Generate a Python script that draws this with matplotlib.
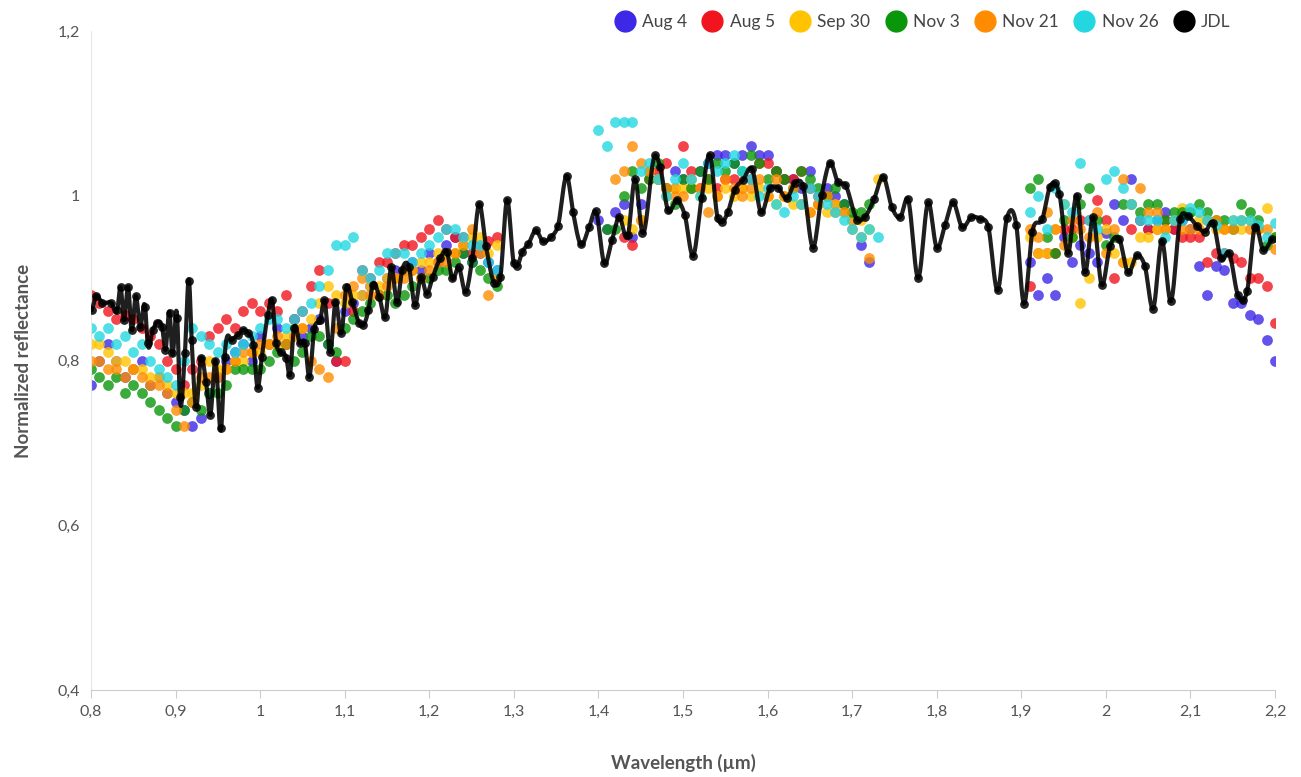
import numpy as np
import matplotlib
matplotlib.use('Agg')
import matplotlib.pyplot as plt
from matplotlib.lines import Line2D

plt.rcParams['font.family'] = ['Lato', 'DejaVu Sans']

# ── data ─────────────────────────────────────────────
wl_a = np.round(np.arange(0.80, 1.285, 0.01), 2)   # 0.80 .. 1.28
wl_c = np.round(np.arange(1.91, 2.205, 0.01), 2)   # 1.91 .. 2.20

aug4_a = [0.77, 0.80, 0.82, 0.80, 0.78, 0.79, 0.80, 0.77, 0.78, 0.76, 0.75, 0.74, 0.72, 0.73, 0.76, 0.78, 0.80,
          0.81, 0.82, 0.80, 0.83, 0.82, 0.84, 0.82, 0.85, 0.83, 0.84, 0.85, 0.82, 0.80, 0.86, 0.87, 0.88, 0.89,
          0.88, 0.90, 0.91, 0.91, 0.92, 0.91, 0.93, 0.92, 0.94, 0.95, 0.93, 0.92, 0.93, 0.92, 0.91]
aug5_a = [0.88, 0.87, 0.86, 0.85, 0.855, 0.85, 0.84, 0.83, 0.82, 0.80, 0.79, 0.77, 0.79, 0.80, 0.83, 0.84, 0.85,
          0.84, 0.86, 0.87, 0.86, 0.87, 0.86, 0.88, 0.85, 0.86, 0.89, 0.91, 0.87, 0.80, 0.80, 0.86, 0.91, 0.90,
          0.92, 0.92, 0.93, 0.94, 0.94, 0.95, 0.96, 0.97, 0.96, 0.95, 0.95, 0.93, 0.94, 0.945, 0.95]
sep30_a = [0.82, 0.82, 0.81, 0.80, 0.80, 0.79, 0.79, 0.78, 0.78, 0.77, 0.76, 0.76, 0.76, 0.77, 0.80, 0.79, 0.79,
           0.80, 0.80, 0.81, 0.81, 0.82, 0.82, 0.83, 0.84, 0.84, 0.85, 0.87, 0.89, 0.88, 0.87, 0.88, 0.88, 0.89,
           0.89, 0.90, 0.90, 0.91, 0.91, 0.92, 0.92, 0.93, 0.93, 0.93, 0.94, 0.95, 0.95, 0.93, 0.94]
nov3_a = [0.79, 0.78, 0.77, 0.78, 0.76, 0.77, 0.76, 0.75, 0.74, 0.73, 0.72, 0.74, 0.75, 0.74, 0.76, 0.76, 0.77,
          0.79, 0.79, 0.79, 0.79, 0.80, 0.81, 0.82, 0.80, 0.81, 0.83, 0.83, 0.82, 0.81, 0.84, 0.85, 0.86, 0.87,
          0.88, 0.88, 0.87, 0.88, 0.89, 0.90, 0.90, 0.91, 0.91, 0.92, 0.93, 0.92, 0.91, 0.90, 0.89]
nov21_a = [0.80, 0.80, 0.79, 0.79, 0.78, 0.79, 0.78, 0.77, 0.77, 0.76, 0.74, 0.72, 0.75, 0.78, 0.78, 0.78, 0.79,
           0.80, 0.81, 0.81, 0.82, 0.82, 0.83, 0.82, 0.83, 0.84, 0.80, 0.79, 0.78, 0.84, 0.88, 0.89, 0.90, 0.88,
           0.88, 0.89, 0.90, 0.90, 0.91, 0.90, 0.91, 0.92, 0.92, 0.93, 0.94, 0.96, 0.93, 0.88, 0.90]
nov26_a = [0.84, 0.83, 0.84, 0.82, 0.83, 0.81, 0.82, 0.80, 0.79, 0.78, 0.77, 0.80, 0.84, 0.83, 0.82, 0.81, 0.82,
           0.81, 0.82, 0.83, 0.84, 0.85, 0.85, 0.84, 0.85, 0.86, 0.87, 0.89, 0.91, 0.94, 0.94, 0.95, 0.91, 0.90,
           0.91, 0.93, 0.93, 0.93, 0.92, 0.93, 0.94, 0.95, 0.96, 0.96, 0.95, 0.94, 0.94, 0.92, 0.91]

aug4_b_wl = [1.40, 1.41, 1.42, 1.43, 1.44, 1.45, 1.46, 1.47, 1.48, 1.49, 1.50, 1.51, 1.52, 1.53, 1.54, 1.55, 1.56,
             1.57, 1.58, 1.59, 1.60, 1.61, 1.62, 1.63, 1.64, 1.65, 1.66, 1.67, 1.68, 1.69, 1.70, 1.71, 1.72]
aug4_b = [0.97, 0.96, 0.98, 0.99, 0.95, 0.99, 1.03, 1.02, 1.01, 1.03, 1.02, 1.01, 1.03, 1.04, 1.05, 1.05, 1.04,
          1.05, 1.06, 1.05, 1.05, 1.03, 1.02, 1.02, 1.01, 1.03, 0.99, 1.01, 1.00, 0.99, 0.97, 0.94, 0.92]
aug5_b_wl = [1.43, 1.44, 1.45, 1.46, 1.47, 1.48, 1.49, 1.50, 1.51, 1.52, 1.53, 1.54, 1.55, 1.56, 1.57, 1.58, 1.59,
             1.60, 1.61, 1.62, 1.63, 1.64, 1.65, 1.66, 1.67, 1.68]
aug5_b = [0.95, 0.94, 0.97, 1.02, 1.03, 1.04, 1.01, 1.06, 1.03, 1.01, 1.02, 1.01, 1.02, 1.02, 1.01, 1.02, 1.04,
          1.04, 1.03, 1.02, 1.02, 1.03, 1.01, 1.00, 1.00, 0.99]
sep30_b_wl = [1.43, 1.44, 1.45, 1.46, 1.47, 1.48, 1.49, 1.50, 1.51, 1.52, 1.53, 1.54, 1.55, 1.56, 1.57, 1.58, 1.59,
              1.60, 1.61, 1.62, 1.63, 1.64, 1.65, 1.66, 1.67, 1.68, 1.69, 1.70, 1.71, 1.72, 1.73]
sep30_b = [0.97, 0.96, 0.97, 1.03, 1.02, 1.00, 1.01, 1.01, 1.01, 1.00, 1.01, 1.00, 1.01, 1.00, 1.01, 1.00, 1.01,
           1.00, 0.99, 1.00, 0.99, 0.99, 0.98, 0.99, 0.98, 0.99, 0.98, 0.97, 0.97, 0.96, 1.02]
nov3_b_wl = [1.41, 1.42, 1.43, 1.44, 1.45, 1.46, 1.47, 1.48, 1.49, 1.50, 1.51, 1.52, 1.53, 1.54, 1.55, 1.56, 1.57,
             1.58, 1.59, 1.60, 1.61, 1.62, 1.63, 1.64, 1.65, 1.66, 1.67, 1.68, 1.69, 1.70, 1.71, 1.72]
nov3_b = [0.96, 0.96, 1.00, 1.03, 1.01, 1.02, 1.04, 1.01, 0.99, 1.02, 1.01, 1.03, 1.02, 1.04, 1.03, 1.04, 1.03,
          1.05, 1.04, 1.02, 1.03, 1.02, 1.01, 1.03, 1.02, 1.01, 1.00, 1.01, 0.99, 0.98, 0.98, 0.99]
nov21_b_wl = [1.42, 1.43, 1.44, 1.45, 1.46, 1.47, 1.48, 1.49, 1.50, 1.51, 1.52, 1.53, 1.54, 1.55, 1.56, 1.57, 1.58,
              1.59, 1.60, 1.61, 1.62, 1.63, 1.64, 1.65, 1.66, 1.67, 1.68, 1.69, 1.70, 1.71, 1.72]
nov21_b = [1.02, 1.03, 1.06, 1.04, 1.03, 1.02, 1.01, 1.00, 1.00, 1.02, 1.01, 0.98, 1.00, 1.02, 1.01, 1.00, 1.01,
           1.02, 1.00, 1.02, 1.00, 1.01, 0.99, 0.98, 0.99, 1.00, 0.98, 0.98, 0.96, 0.95, 0.925]
nov26_b_wl = [1.40, 1.41, 1.42, 1.43, 1.44, 1.45, 1.46, 1.47, 1.48, 1.49, 1.50, 1.51, 1.52, 1.53, 1.54, 1.55, 1.56,
              1.57, 1.58, 1.59, 1.60, 1.61, 1.62, 1.63, 1.64, 1.65, 1.66, 1.67, 1.68, 1.69, 1.70, 1.71, 1.72, 1.73]
nov26_b = [1.08, 1.06, 1.09, 1.09, 1.09, 1.03, 1.04, 1.02, 1.00, 1.02, 1.04, 1.02, 1.00, 1.04, 1.03, 1.04, 1.05,
           1.03, 1.02, 1.00, 1.01, 0.99, 0.98, 1.00, 0.99, 1.01, 1.00, 0.99, 0.98, 0.97, 0.96, 0.95, 0.96, 0.95]

aug4_c = [0.92, 0.88, 0.90, 0.88, 0.95, 0.92, 0.94, 0.93, 0.92, 0.955, 0.99, 0.97, 1.02, 0.97, 0.96, 0.97, 0.98,
          0.96, 0.97, 0.96, 0.915, 0.88, 0.915, 0.91, 0.87, 0.87, 0.855, 0.85, 0.825, 0.80]
aug5_c = [0.89, 0.93, 0.93, 0.93, 0.96, 0.96, 0.97, 0.97, 0.995, 0.97, 0.90, 0.92, 0.96, 0.97, 0.96, 0.96, 0.97,
          0.96, 0.95, 0.95, 0.95, 0.92, 0.93, 0.93, 0.925, 0.92, 0.90, 0.90, 0.89, 0.845]
sep30_c = [0.95, 0.93, 0.93, 0.96, 0.99, 0.95, 0.87, 0.90, 0.95, 0.96, 0.93, 0.92, 0.92, 0.95, 0.95, 0.96, 0.96,
           0.97, 0.985, 0.98, 0.97, 0.97, 0.96, 0.96, 0.97, 0.96, 0.97, 0.96, 0.985, 0.95]
nov3_c = [1.01, 1.02, 0.95, 0.93, 0.97, 0.95, 0.99, 1.01, 0.97, 0.94, 0.95, 0.99, 0.99, 0.98, 0.99, 0.99, 0.97,
          0.98, 0.98, 0.98, 0.99, 0.98, 0.97, 0.97, 0.96, 0.99, 0.98, 0.97, 0.94, 0.95]
nov21_c = [0.96, 0.95, 0.98, 0.96, 0.94, 0.97, 0.96, 0.95, 0.98, 0.93, 0.96, 1.02, 0.99, 1.01, 0.98, 0.98, 0.96,
           0.97, 0.96, 0.96, 0.96, 0.97, 0.97, 0.96, 0.96, 0.97, 0.96, 0.96, 0.96, 0.935]
nov26_c = [0.98, 1.00, 0.96, 1.01, 0.99, 0.98, 1.04, 0.97, 0.96, 1.02, 1.03, 1.01, 0.99, 0.97, 0.97, 0.97, 0.95,
           0.97, 0.97, 0.985, 0.98, 0.97, 0.965, 0.93, 0.97, 0.97, 0.97, 0.965, 0.95, 0.967]

jdl_wl = [0.801, 0.806, 0.813, 0.824, 0.831, 0.835, 0.839, 0.844, 0.848, 0.853, 0.858, 0.864, 0.867, 0.873,
          0.878, 0.884, 0.888, 0.893, 0.896, 0.902, 0.905, 0.911, 0.916, 0.919, 0.924, 0.930, 0.936, 0.941,
          0.947, 0.954, 0.958, 0.967, 0.974, 0.980, 0.986, 0.992, 0.997, 1.002, 1.009, 1.014, 1.019, 1.025,
          1.031, 1.035, 1.040, 1.047, 1.053, 1.058, 1.064, 1.071, 1.076, 1.083, 1.089, 1.096, 1.102, 1.109,
          1.117, 1.122, 1.128, 1.133, 1.141, 1.148, 1.155, 1.162, 1.168, 1.176, 1.183, 1.190, 1.197, 1.204,
          1.213, 1.221, 1.227, 1.235, 1.243, 1.251, 1.259, 1.267, 1.277, 1.284, 1.292, 1.300, 1.304, 1.310,
          1.317, 1.326, 1.334, 1.344, 1.352, 1.363, 1.370, 1.379, 1.389, 1.397, 1.407, 1.416, 1.424, 1.435,
          1.443, 1.452, 1.467, 1.473, 1.482, 1.493, 1.502, 1.512, 1.522, 1.532, 1.541, 1.546, 1.553, 1.561,
          1.571, 1.582, 1.592, 1.603, 1.612, 1.623, 1.632, 1.642, 1.654, 1.664, 1.674, 1.683, 1.692, 1.706,
          1.715, 1.726, 1.737, 1.747, 1.757, 1.766, 1.778, 1.790, 1.800, 1.810, 1.819, 1.830, 1.841, 1.851,
          1.861, 1.872, 1.883, 1.894, 1.903, 1.913, 1.925, 1.934, 1.940, 1.945, 1.955, 1.966, 1.975, 1.985,
          1.995, 2.005, 2.016, 2.026, 2.037, 2.046, 2.056, 2.066, 2.077, 2.088, 2.097, 2.108, 2.117, 2.127,
          2.136, 2.146, 2.156, 2.162, 2.167, 2.176, 2.186, 2.196]
jdl = [0.861, 0.878, 0.870, 0.870, 0.861, 0.889, 0.849, 0.889, 0.837, 0.878, 0.841, 0.865, 0.821, 0.837,
       0.846, 0.841, 0.813, 0.858, 0.809, 0.852, 0.756, 0.809, 0.897, 0.825, 0.744, 0.803, 0.774, 0.734,
       0.800, 0.718, 0.804, 0.825, 0.831, 0.837, 0.833, 0.819, 0.767, 0.804, 0.855, 0.873, 0.821, 0.810,
       0.803, 0.782, 0.839, 0.821, 0.821, 0.780, 0.838, 0.849, 0.873, 0.810, 0.871, 0.833, 0.889, 0.871,
       0.846, 0.843, 0.861, 0.892, 0.877, 0.853, 0.913, 0.871, 0.910, 0.913, 0.867, 0.901, 0.881, 0.901,
       0.924, 0.932, 0.900, 0.913, 0.883, 0.925, 0.990, 0.939, 0.894, 0.901, 0.995, 0.918, 0.915, 0.932,
       0.941, 0.958, 0.945, 0.950, 0.963, 1.024, 0.980, 0.941, 0.962, 0.981, 0.918, 0.946, 0.974, 0.952,
       1.020, 0.955, 1.049, 1.035, 0.983, 0.995, 0.977, 0.927, 0.997, 1.049, 0.973, 0.968, 0.980, 1.007,
       1.019, 1.032, 0.980, 1.009, 1.010, 0.997, 1.015, 1.012, 0.937, 1.001, 1.040, 1.017, 1.013, 0.971,
       0.974, 0.996, 1.023, 0.986, 0.974, 0.996, 0.900, 0.992, 0.937, 0.965, 0.992, 0.962, 0.974, 0.972,
       0.962, 0.885, 0.973, 0.965, 0.869, 0.956, 0.972, 1.011, 1.015, 1.002, 0.930, 1.000, 0.907, 0.974,
       0.892, 0.939, 0.947, 0.907, 0.928, 0.915, 0.863, 0.945, 0.872, 0.972, 0.975, 0.963, 0.956, 0.967,
       0.924, 0.930, 0.880, 0.873, 0.884, 0.962, 0.934, 0.947]

names = ["Aug 4", "Aug 5", "Sep 30", "Nov 3", "Nov 21", "Nov 26"]
colors = ["#3c28e6", "#f0141e", "#ffc300", "#0a960a", "#ff8c00", "#23d7e1"]
series = [
    (aug4_a, aug4_b_wl, aug4_b, aug4_c),
    (aug5_a, aug5_b_wl, aug5_b, aug5_c),
    (sep30_a, sep30_b_wl, sep30_b, sep30_c),
    (nov3_a, nov3_b_wl, nov3_b, nov3_c),
    (nov21_a, nov21_b_wl, nov21_b, nov21_c),
    (nov26_a, nov26_b_wl, nov26_b, nov26_c),
]


# cardinal-spline look for the JDL line (drawing only)
def smooth_line(x, y, n=10):
    x = np.asarray(x, float)
    y = np.asarray(y, float)
    m = np.gradient(y, x)
    xs, ys = [], []
    t = np.linspace(0, 1, n, endpoint=False)
    for i in range(len(x) - 1):
        h = x[i + 1] - x[i]
        h00 = 2 * t**3 - 3 * t**2 + 1
        h10 = t**3 - 2 * t**2 + t
        h01 = -2 * t**3 + 3 * t**2
        h11 = t**3 - t**2
        xs.append(x[i] + t * h)
        ys.append(h00 * y[i] + h10 * h * m[i] + h01 * y[i + 1] + h11 * h * m[i + 1])
    xs.append([x[-1]])
    ys.append([y[-1]])
    return np.concatenate(xs), np.concatenate(ys)


# ── plot ─────────────────────────────────────────────
fig = plt.figure(figsize=(13.01, 7.77), dpi=100)
ax = fig.add_axes([91 / 1301, 1 - 690 / 777, (1275 - 91) / 1301, (690 - 31) / 777])

for (ya, wb, yb, yc), c in zip(series, colors):
    xs = list(wl_a) + list(wb) + list(wl_c)
    ys = list(ya) + list(yb) + list(yc)
    ax.scatter(xs, ys, s=60, color=c, alpha=0.8, linewidths=0, zorder=2)

sx, sy = smooth_line(jdl_wl, jdl)
ax.plot(sx, sy, color="black", lw=3.0, alpha=0.88, zorder=3, solid_capstyle="round")
ax.scatter(jdl_wl, jdl, s=40, color="black", alpha=0.85, linewidths=0, zorder=4)

ax.set_xlim(0.8, 2.2)
ax.set_ylim(0.4, 1.2)
xt = np.round(np.arange(0.8, 2.21, 0.1), 1)
ax.set_xticks(xt)
ax.set_xticklabels([f"{v:g}".replace(".", ",") for v in xt])
yt = [0.4, 0.6, 0.8, 1.0, 1.2]
ax.set_yticks(yt)
ax.set_yticklabels([f"{v:g}".replace(".", ",") for v in yt])

for s in ["top", "right"]:
    ax.spines[s].set_visible(False)
ax.spines["left"].set_color("#e6e6e6")
ax.spines["bottom"].set_color("#cccccc")
ax.tick_params(axis="y", length=0, pad=8, labelsize=11.5, labelcolor="#555555")
ax.tick_params(axis="x", length=6, color="#cccccc", pad=5, labelsize=11.5, labelcolor="#555555")

ax.set_xlabel("Wavelength (µm)", fontsize=13.5, fontweight="bold", color="#555555", labelpad=25)
ax.set_ylabel("Normalized reflectance", fontsize=13.5, fontweight="bold", color="#555555", labelpad=18)

handles = [Line2D([], [], marker="o", ls="", color=c, markersize=15) for c in colors]
handles.append(Line2D([], [], marker="o", ls="", color="black", markersize=15))
fig.legend(handles, names + ["JDL"], loc="upper right", bbox_to_anchor=(1246 / 1301, 1 + 2 / 777),
           ncol=7, frameon=False, fontsize=12.5, handletextpad=0.0, columnspacing=0.45,
           labelcolor="#444444")

plt.savefig("out.png", dpi=100)
plt.close()
